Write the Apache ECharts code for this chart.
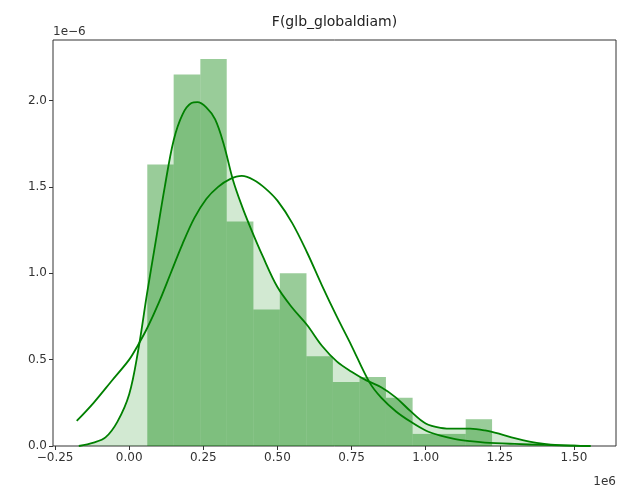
<!DOCTYPE html>
<html>
<head>
<meta charset="utf-8">
<script src="https://cdn.jsdelivr.net/npm/echarts@6/dist/echarts.min.js"></script>
<style>
html,body{margin:0;padding:0;background:#fff;}
#chart{width:624px;height:493px;}
</style>
</head>
<body>
<div id="chart"></div>
<script>
// Values are in units of 1e6 (x) and 1e-6 (y), as shown on the axes
const titleText = "F(glb_globaldiam)";
const xTickValues = [-0.25, 0.0, 0.25, 0.5, 0.75, 1.0, 1.25, 1.5];
const yTickValues = [0.0, 0.5, 1.0, 1.5, 2.0];

// histogram bin edges and density heights
const binEdges = [0.061, 0.150, 0.240, 0.329, 0.419, 0.508, 0.598, 0.687, 0.777, 0.866, 0.956, 1.045, 1.135, 1.224];
const binHeights = [1.63, 2.15, 2.24, 1.30, 0.79, 1.00, 0.52, 0.37, 0.40, 0.28, 0.07, 0.07, 0.155];

// shaded KDE curve (narrow, tall)
const kdeX = [-0.17, -0.12, -0.08, -0.04, 0.00, 0.03, 0.06, 0.09, 0.12, 0.15, 0.18, 0.21, 0.23, 0.26, 0.29, 0.32, 0.35, 0.38, 0.41, 0.45, 0.50, 0.55, 0.60, 0.65, 0.70, 0.75, 0.80, 0.85, 0.90, 0.95, 1.00, 1.05, 1.10, 1.15, 1.20, 1.25, 1.30, 1.35, 1.40, 1.45, 1.50, 1.556];
const kdeY = [0.00, 0.02, 0.05, 0.14, 0.30, 0.55, 0.88, 1.19, 1.50, 1.77, 1.92, 1.985, 1.99, 1.96, 1.89, 1.74, 1.54, 1.39, 1.26, 1.10, 0.92, 0.80, 0.70, 0.58, 0.49, 0.43, 0.38, 0.34, 0.28, 0.20, 0.13, 0.105, 0.10, 0.10, 0.09, 0.07, 0.045, 0.025, 0.012, 0.005, 0.002, 0.0];

// wide curve
const fitX = [-0.177, -0.12, -0.06, 0.00, 0.03, 0.06, 0.10, 0.14, 0.18, 0.22, 0.26, 0.30, 0.34, 0.38, 0.42, 0.46, 0.50, 0.55, 0.60, 0.65, 0.70, 0.75, 0.81, 0.85, 0.90, 0.95, 1.00, 1.05, 1.10, 1.15, 1.20, 1.30, 1.40, 1.50, 1.556];
const fitY = [0.145, 0.25, 0.375, 0.50, 0.585, 0.68, 0.83, 1.00, 1.17, 1.32, 1.43, 1.50, 1.545, 1.563, 1.54, 1.49, 1.42, 1.29, 1.12, 0.93, 0.75, 0.58, 0.37, 0.28, 0.20, 0.14, 0.09, 0.06, 0.04, 0.028, 0.02, 0.012, 0.006, 0.002, 0.0];

const GREEN = '#008000';
const FONT = 'DejaVu Sans';
const fmtX = v => (v < 0 ? '\u2212' : '') + Math.abs(v).toFixed(2);
const fmtY = v => v.toFixed(1);

const barData = binHeights.map((h, i) => [binEdges[i], binEdges[i + 1], h]);
const kdeData = kdeX.map((x, i) => [x, kdeY[i]]);
const fitData = fitX.map((x, i) => [x, fitY[i]]);

const chart = echarts.init(document.getElementById('chart'), null, {renderer: 'canvas'});
chart.setOption({
  animation: false,
  backgroundColor: '#fff',
  grid: {left: 53, right: 8, top: 40, bottom: 47, show: true, borderColor: '#333', borderWidth: 1, backgroundColor: 'transparent'},
  xAxis: {
    type: 'value', min: -0.257, max: 1.642, position: 'bottom',
    axisLine: {show: false, onZero: false},
    splitLine: {show: false},
    axisTick: {show: true, length: 4, inside: false, customValues: xTickValues, lineStyle: {color: '#333', width: 1}},
    axisLabel: {show: true, customValues: xTickValues, formatter: fmtX, color: '#333', fontFamily: FONT, fontSize: 12, margin: 6}
  },
  yAxis: {
    type: 'value', min: 0, max: 2.35, position: 'left',
    axisLine: {show: false, onZero: false},
    splitLine: {show: false},
    axisTick: {show: true, length: 4, inside: false, customValues: yTickValues, lineStyle: {color: '#333', width: 1}},
    axisLabel: {show: true, customValues: yTickValues, formatter: fmtY, color: '#333', fontFamily: FONT, fontSize: 12, margin: 6}
  },
  graphic: [
    {type: 'text', x: 334.5, y: 22, style: {text: titleText, fill: '#222', font: '14px "DejaVu Sans"', textAlign: 'center', textVerticalAlign: 'middle'}},
    {type: 'text', x: 53, y: 32, style: {text: '1e\u22126', fill: '#333', font: '12px "DejaVu Sans"', textAlign: 'left', textVerticalAlign: 'middle'}},
    {type: 'text', x: 616, y: 482, style: {text: '1e6', fill: '#333', font: '12px "DejaVu Sans"', textAlign: 'right', textVerticalAlign: 'middle'}}
  ],
  series: [
    {
      type: 'custom',
      data: barData,
      encode: {x: [0, 1], y: 2},
      clip: true,
      renderItem: function (params, api) {
        const p0 = api.coord([api.value(0), api.value(2)]);
        const p1 = api.coord([api.value(1), 0]);
        return {type: 'rect', shape: {x: p0[0], y: p0[1], width: p1[0] - p0[0], height: p1[1] - p0[1]}, style: {fill: 'rgba(0,128,0,0.4)'}};
      },
      z: 1
    },
    {
      type: 'line', data: kdeData, showSymbol: false, smooth: 0.35,
      lineStyle: {color: GREEN, width: 1.8},
      areaStyle: {color: 'rgba(0,128,0,0.25)'},
      z: 2
    },
    {
      type: 'line', data: fitData, showSymbol: false, smooth: 0.35,
      lineStyle: {color: GREEN, width: 1.8},
      z: 3
    }
  ]
});
</script>
</body>
</html>
